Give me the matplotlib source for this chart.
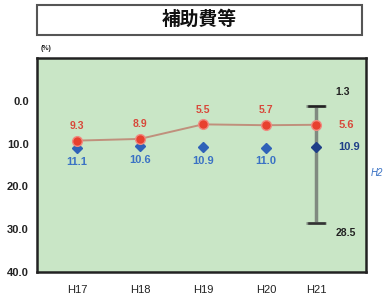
import matplotlib
matplotlib.use("Agg")
import matplotlib.pyplot as plt
from matplotlib.patches import Rectangle

plt.rcParams['font.family'] = ['Liberation Sans', 'Noto Sans CJK JP', 'DejaVu Sans']

years = ["H17", "H18", "H19", "H20", "H21"]
x_pos = [0, 1, 2, 3, 3.8]
own_values = [9.3, 8.9, 5.5, 5.7, 5.6]
avg_values = [11.1, 10.6, 10.9, 11.0, 10.9]
range_min = 1.3
range_max = 28.5
y_ticks = [0, 10, 20, 30, 40]
title = "補助費等"

fig = plt.figure(figsize=(3.83, 3.00), dpi=100)
fig.patch.set_facecolor("white")

# title box
fig.patches.append(Rectangle((0.097, 0.885), 0.848, 0.098, transform=fig.transFigure,
                             facecolor="white", edgecolor="#555555", linewidth=1.5))
fig.text(0.52, 0.934, title, ha="center", va="center", fontsize=13.5, fontweight="bold",
         color="#111111", family=['Noto Sans CJK JP'])

ax = fig.add_axes([0.0966, 0.0933, 0.859, 0.7133])
ax.set_facecolor("#c9e6c6")
ax.set_xlim(-0.635, 4.59)
ax.set_ylim(40, -10)
ax.set_yticks(y_ticks)
ax.set_yticklabels([f"{v:.1f}" for v in y_ticks], fontsize=8, fontweight="bold", color="#222222")
ax.set_xticks(x_pos)
ax.set_xticklabels(years, fontsize=8, color="#222222")
ax.tick_params(length=0, pad=9)
ax.tick_params(axis="y", pad=6)
for s in ax.spines.values():
    s.set_color("#222222")
    s.set_linewidth(1.8)

# range bar for H21
ax.errorbar([x_pos[-1]], [(range_min + range_max) / 2],
            yerr=[[(range_min + range_max) / 2 - range_min], [range_max - (range_min + range_max) / 2]],
            fmt="none", ecolor="#808a80", elinewidth=2.5, capsize=7, capthick=2, zorder=2)
ax.plot([x_pos[-1] - 0.12, x_pos[-1] + 0.12], [range_min, range_min], color="#222222", lw=1.8, zorder=3)
ax.plot([x_pos[-1] - 0.12, x_pos[-1] + 0.12], [range_max, range_max], color="#333333", lw=1.8, zorder=3)

ax.plot(x_pos, own_values, color="#c0907c", lw=1.4, zorder=3)
ax.plot(x_pos, own_values, "o", color="#e8402f", ms=7, markeredgecolor="#f08a80",
        markeredgewidth=1.0, zorder=5)
ax.plot(x_pos[:-1], avg_values[:-1], "D", color="#2f62b8", ms=5, zorder=4)
ax.plot(x_pos[-1:], avg_values[-1:], "D", color="#1f3f88", ms=5, zorder=4)

for i, (x, a, b) in enumerate(zip(x_pos, own_values, avg_values)):
    if i < len(x_pos) - 1:
        ax.annotate(f"{a:.1f}", (x, a), xytext=(0, 7), textcoords="offset points",
                    ha="center", va="bottom", fontsize=7.5, fontweight="bold", color="#d8483a")
        ax.annotate(f"{b:.1f}", (x, b), xytext=(0, -6), textcoords="offset points",
                    ha="center", va="top", fontsize=8, fontweight="bold", color="#3a72c4")

xl = x_pos[-1]
ax.annotate(f"{own_values[-1]:.1f}", (xl, own_values[-1]), xytext=(16, 0), textcoords="offset points",
            ha="left", va="center", fontsize=8, fontweight="bold", color="#d8483a")
ax.annotate(f"{avg_values[-1]:.1f}", (xl, avg_values[-1]), xytext=(16, 0), textcoords="offset points",
            ha="left", va="center", fontsize=8, fontweight="bold", color="#1f3f88")
ax.annotate(f"{range_min:.1f}", (xl, range_min), xytext=(14, 7), textcoords="offset points",
            ha="left", va="bottom", fontsize=7.5, fontweight="bold", color="#222222")
ax.annotate(f"{range_max:.1f}", (xl, range_max), xytext=(14, -4), textcoords="offset points",
            ha="left", va="top", fontsize=7.5, fontweight="bold", color="#222222")

fig.text(0.105, 0.825, "(%)", fontsize=5, fontweight="bold", color="#222222", ha="left", va="bottom")
fig.text(0.968, 0.425, "H2", fontsize=7, style="italic", color="#3a72c4", ha="left", va="center")

fig.savefig("out.png", dpi=100)
